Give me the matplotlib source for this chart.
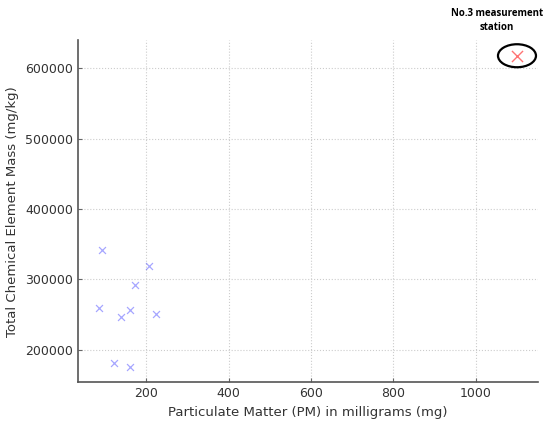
import matplotlib
matplotlib.use("Agg")
import matplotlib.pyplot as plt
from matplotlib.patches import Ellipse

# particulate matter (mg) vs total chemical element mass (mg/kg)
pm_mg = [92, 207, 173, 84, 161, 139, 224, 121, 161]
mass_mgkg = [341600, 319300, 291900, 258800, 256400, 246400, 251100, 181500, 175900]

# No.3 measurement station (outlier)
st3_pm = [1100]
st3_mass = [617600]
st3_label = "No.3 measurement\nstation"

fig = plt.figure(figsize=(5.5, 4.24), dpi=100)
ax = fig.add_axes([0.1413, 0.0986, 0.8367, 0.8066])

ax.scatter(pm_mg, mass_mgkg, marker="x", s=25, color="blue", alpha=0.35, linewidths=0.9)
ax.scatter(st3_pm, st3_mass, marker="x", s=64, color="red", alpha=0.55, linewidths=1.0)

ax.set_xlabel("Particulate Matter (PM) in milligrams (mg)", fontsize=9.5, color="#333333")
ax.set_ylabel("Total Chemical Element Mass (mg/kg)", fontsize=9.5, color="#333333")
ax.set_xticks([200, 400, 600, 800, 1000])
ax.set_yticks([200000, 300000, 400000, 500000, 600000])
ax.tick_params(direction="in", length=3, width=0.8, color="#666666",
               labelsize=9, labelcolor="#333333")
ax.grid(True, linestyle=":", color="#cccccc", linewidth=0.8)
ax.set_axisbelow(True)

for side in ["top", "right"]:
    ax.spines[side].set_visible(False)
for side in ["left", "bottom"]:
    ax.spines[side].set_color("#555555")
    ax.spines[side].set_linewidth(1.2)

# ellipse round the outlier, sized in pixels then converted to data units
x0, x1 = ax.get_xlim()
y0, y1 = ax.get_ylim()
bbox = ax.get_window_extent()
w = 38 * (x1 - x0) / bbox.width
h = 23 * (y1 - y0) / bbox.height
ax.add_patch(Ellipse((st3_pm[0], st3_mass[0]), w, h, fill=False,
                     edgecolor="black", linewidth=1.6, clip_on=False))

ax.annotate(st3_label, xy=(st3_pm[0], st3_mass[0]), xytext=(-20, 35),
            textcoords="offset pixels", ha="center", va="center",
            fontsize=7, fontweight="bold", family="Open Sans", linespacing=1.4)

fig.savefig("out.png", dpi=100)
